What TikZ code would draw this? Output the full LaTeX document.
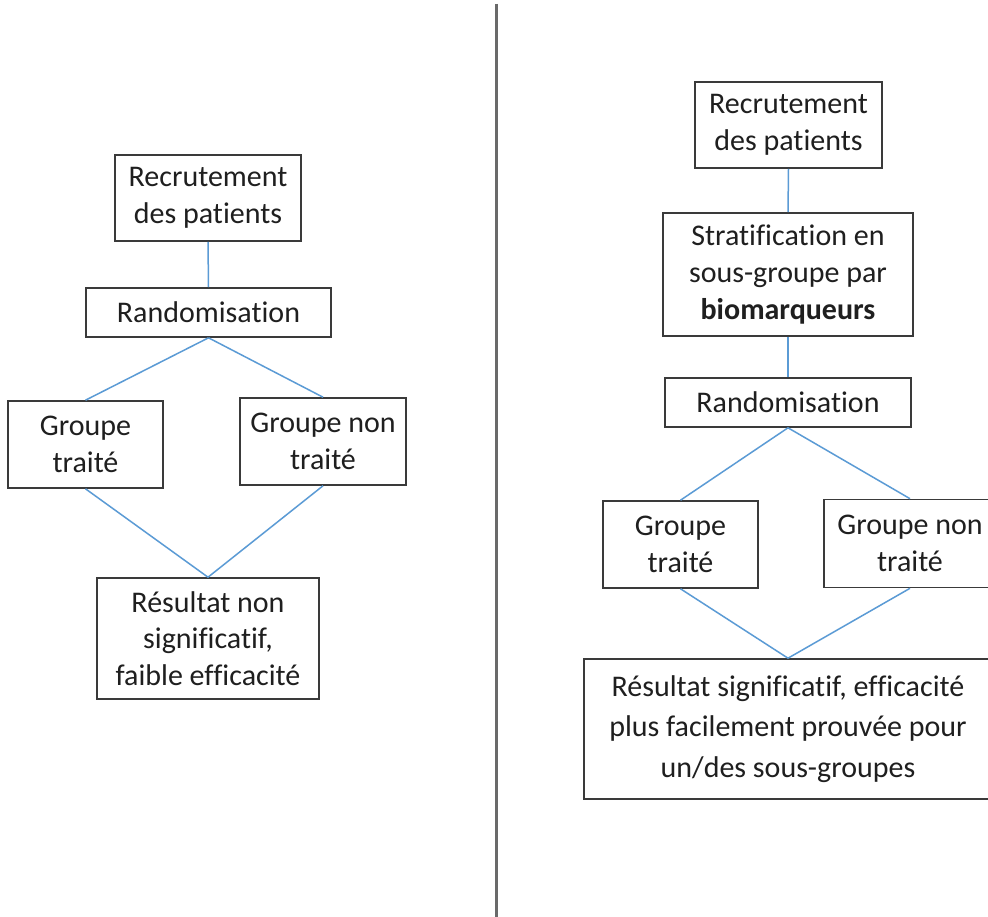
\documentclass[tikz,border=0pt]{standalone}
\usepackage{fontspec}
\setmainfont[Ligatures={NoCommon}]{Carlito}
\definecolor{boxline}{HTML}{3A3A3A}
\definecolor{linkblue}{HTML}{5B9BD5}
\definecolor{divgray}{HTML}{6A6A6A}
\begin{document}
\begin{tikzpicture}[x=1pt,y=-1pt,
  box/.style={draw=boxline, line width=1.6pt, fill=white, inner sep=0pt, align=center,
    font=\fontsize{30}{36.6}\selectfont, text=black!88},
  link/.style={draw=linkblue, line width=1.5pt},
]
\useasboundingbox (0,0) rectangle (988,917);
\clip (0,0) rectangle (988,917);
\fill[white] (0,0) rectangle (988,917);

% divider
\coordinate (dtop) at (496,4);
\coordinate (dbot) at (496,917);
\draw[divgray, line width=3pt] (dtop) -- (dbot);

% left flowchart
\node[box, minimum width=186pt, minimum height=86pt] (rec1) at (208,198) {Recrutement\\des patients};
\node[box, minimum width=245pt, minimum height=49pt] (rand1) at (208.5,312.5) {Randomisation};
\node[box, minimum width=155pt, minimum height=87pt] (gt1) at (85.5,444.5) {Groupe\\traité};
\node[box, minimum width=166pt, minimum height=87pt] (gnt1) at (323,441.5) {Groupe non\\traité};
\node[box, minimum width=222pt, minimum height=121pt] (res1) at (208,638.5) {Résultat non\\significatif,\\faible efficacité};

\draw[link] (rec1.south) -- (rand1.north);
\draw[link] (rand1.south) -- (gt1.north);
\draw[link] (rand1.south) -- (gnt1.north);
\draw[link] (gt1.south) -- (res1.north);
\draw[link] (gnt1.south) -- (res1.north);

% right flowchart
\node[box, minimum width=187pt, minimum height=86pt] (rec2) at (788.5,125) {Recrutement\\des patients};
\node[box, minimum width=250pt, minimum height=123pt] (strat) at (788,274.5) {Stratification en\\sous-groupe par\\\textbf{biomarqueurs}};
\node[box, minimum width=246pt, minimum height=49pt] (rand2) at (788,402.5) {Randomisation};
\node[box, minimum width=155pt, minimum height=87pt] (gt2) at (680.5,544.5) {Groupe\\traité};
\node[box, minimum width=172pt, minimum height=88pt] (gnt2) at (910,543.5) {Groupe non\\traité};
\node[box, minimum width=408pt, minimum height=140pt, font=\fontsize{30}{40.5}\selectfont] (res2) at (788,729) {Résultat significatif, efficacité\\plus facilement prouvée pour\\un/des sous-groupes};

\draw[link] (rec2.south) -- (strat.north);
\draw[link] (strat.south) -- (rand2.north);
\draw[link] (rand2.south) -- (gt2.north);
\draw[link] (rand2.south) -- (gnt2.north);
\draw[link] (gt2.south) -- (res2.north);
\draw[link] (gnt2.south) -- (res2.north);
\end{tikzpicture}
\end{document}
